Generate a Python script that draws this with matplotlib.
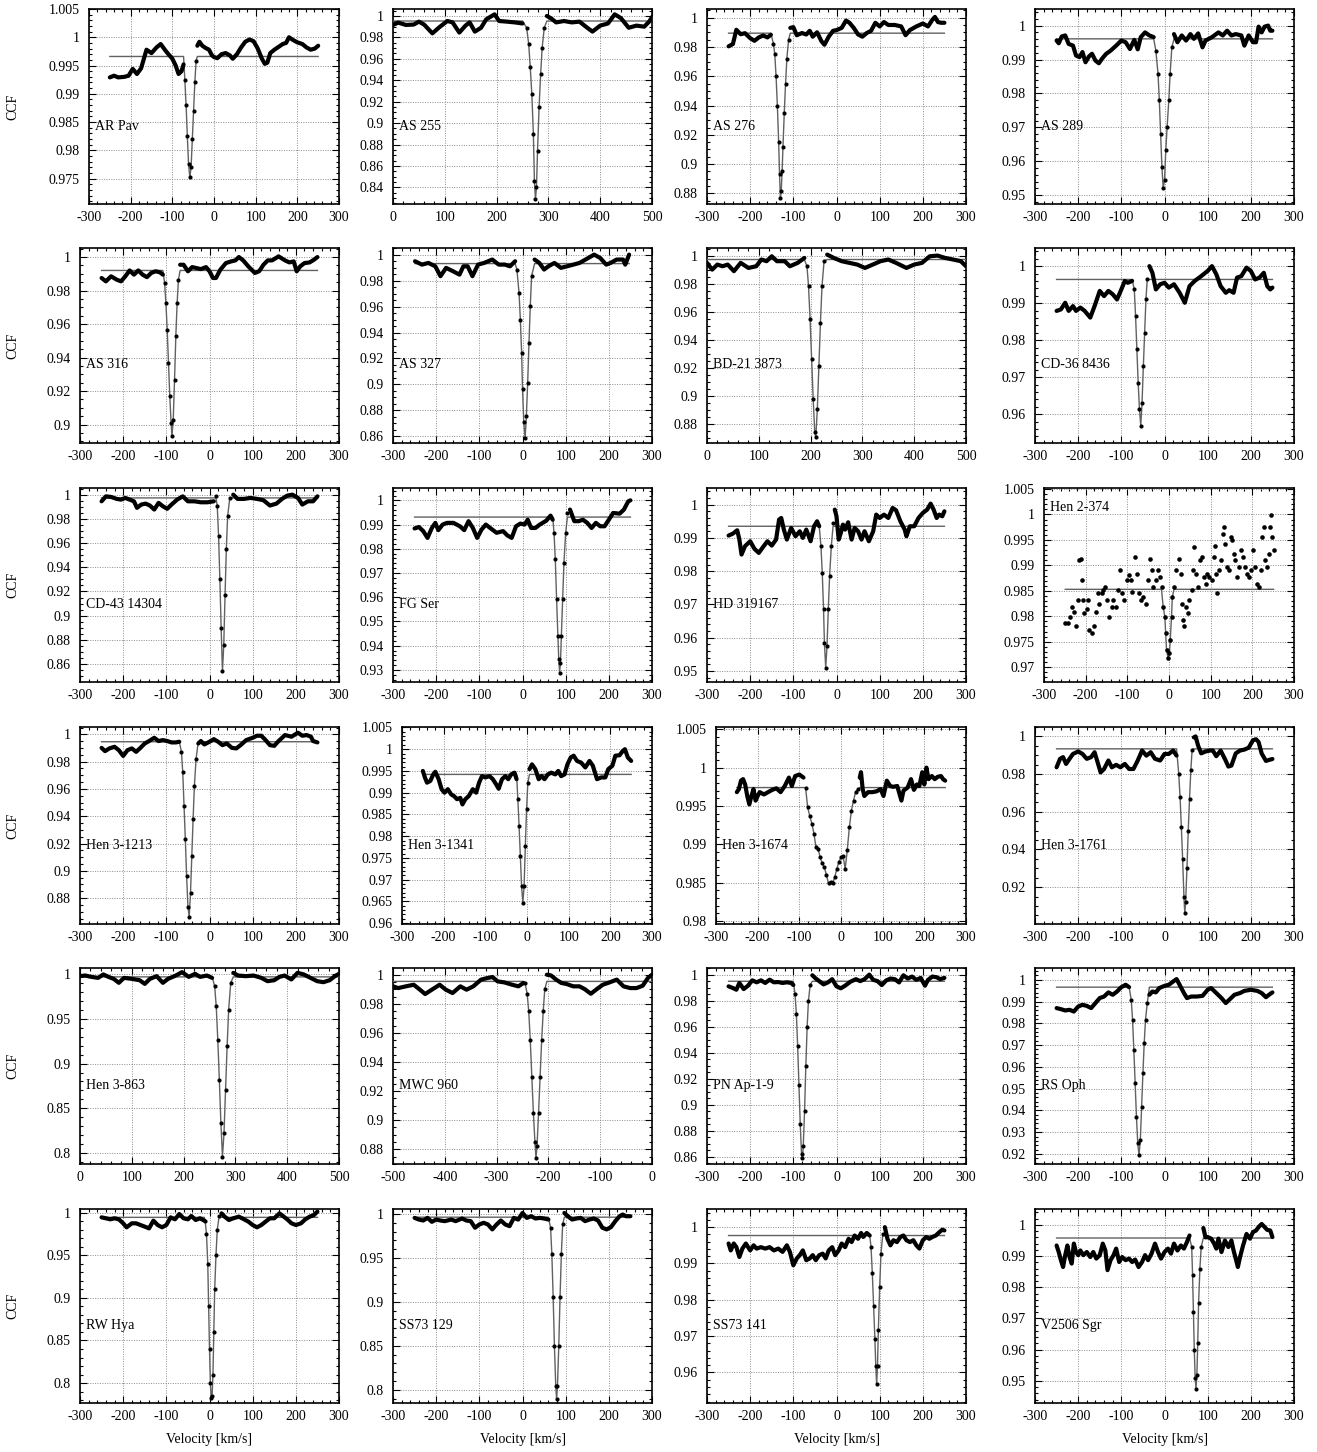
import numpy as np
import matplotlib
matplotlib.use("Agg")
import matplotlib.pyplot as plt
from matplotlib.ticker import FixedLocator, AutoMinorLocator, FuncFormatter

plt.rcParams["font.family"] = ["Liberation Serif", "DejaVu Serif"]
plt.rcParams["axes.unicode_minus"] = False

# (velocity [km/s], CCF), one list per star
AR_PAV = [(-250, 0.9929), (-240, 0.9932), (-230, 0.9929), (-215, 0.9930), (-205, 0.9932), (-195, 0.9944), (-185, 0.9935),
          (-175, 0.9945), (-162, 0.9978), (-150, 0.9972), (-138, 0.9982), (-128, 0.9988), (-115, 0.9975), (-100, 0.9962),
          (-92, 0.9950), (-85, 0.9935), (-78, 0.9940), (-73, 0.9952), (-70, 0.9925), (-67, 0.9880), (-64, 0.9825),
          (-61, 0.9775), (-58, 0.9752), (-55, 0.9770), (-52, 0.9820), (-49, 0.9870), (-46, 0.9920), (-43, 0.9958),
          (-40, 0.9985), (-35, 0.9992), (-28, 0.9985), (-20, 0.9981), (-12, 0.9978), (-5, 0.9968), (0, 0.9965),
          (8, 0.9963), (18, 0.9970), (28, 0.9972), (38, 0.9968), (45, 0.9962), (55, 0.9970), (65, 0.9982), (75, 0.9992),
          (85, 0.9996), (95, 0.9993), (105, 0.9980), (115, 0.9962), (122, 0.9953), (128, 0.9955), (135, 0.9972),
          (145, 0.9978), (155, 0.9983), (165, 0.9988), (173, 0.9990), (180, 1.0000), (190, 0.9995), (200, 0.9991),
          (212, 0.9988), (222, 0.9982), (232, 0.9978), (242, 0.9980), (250, 0.9985)]
AS_255 = [(0, 0.9916), (10, 0.9938), (25, 0.9916), (40, 0.9920), (50, 0.9947), (60, 0.9920), (76, 0.9838), (90, 0.9897),
          (105, 0.9953), (115, 0.9940), (128, 0.9845), (140, 0.9910), (148, 0.9940), (158, 0.9854), (170, 0.9890),
          (180, 0.9969), (196, 1.0015), (205, 0.9953), (220, 0.9947), (235, 0.9940), (250, 0.9930), (258, 0.9890),
          (262, 0.9736), (265, 0.9520), (268, 0.9270), (271, 0.8900), (273, 0.8460), (275, 0.8291), (277, 0.8400),
          (279, 0.8740), (282, 0.9146), (285, 0.9456), (288, 0.9705), (292, 0.9890), (297, 1.0000), (305, 0.9978),
          (315, 0.9940), (330, 0.9953), (345, 0.9940), (360, 0.9947), (375, 0.9890), (385, 0.9854), (400, 0.9910),
          (415, 0.9930), (428, 1.0015), (440, 0.9980), (455, 0.9890), (470, 0.9910), (485, 0.9900), (495, 0.9950),
          (500, 0.9990)]
AS_276 = [(-250, 0.9804), (-240, 0.9820), (-232, 0.9917), (-222, 0.9887), (-212, 0.9894), (-200, 0.9860), (-190, 0.9842),
          (-180, 0.9865), (-170, 0.9878), (-160, 0.9865), (-152, 0.9883), (-146, 0.9820), (-143, 0.9750), (-140, 0.9600),
          (-137, 0.9400), (-134, 0.9150), (-132, 0.8930), (-130, 0.8766), (-128, 0.8820), (-126, 0.8950), (-124, 0.9120),
          (-121, 0.9350), (-118, 0.9550), (-115, 0.9720), (-111, 0.9850), (-107, 0.9930), (-100, 0.9935), (-92, 0.9880),
          (-80, 0.9895), (-70, 0.9885), (-62, 0.9910), (-55, 0.9870), (-45, 0.9900), (-35, 0.9840), (-28, 0.9815),
          (-18, 0.9870), (-8, 0.9910), (0, 0.9915), (12, 0.9930), (22, 0.9980), (30, 0.9965), (40, 0.9930), (50, 0.9885),
          (60, 0.9870), (70, 0.9895), (80, 0.9910), (90, 0.9965), (100, 0.9940), (110, 0.9970), (120, 0.9950),
          (135, 0.9950), (150, 0.9940), (160, 0.9880), (170, 0.9915), (185, 0.9940), (200, 0.9960), (212, 0.9940),
          (222, 0.9985), (228, 1.0005), (235, 0.9970), (242, 0.9965), (250, 0.9965)]
AS_289 = [(-250, 0.9956), (-245, 0.9948), (-238, 0.9968), (-230, 0.9971), (-222, 0.9946), (-212, 0.9941), (-205, 0.9912),
          (-197, 0.9907), (-190, 0.9922), (-183, 0.9892), (-175, 0.9909), (-168, 0.9917), (-160, 0.9897), (-152, 0.9889),
          (-145, 0.9902), (-135, 0.9917), (-125, 0.9926), (-112, 0.9941), (-100, 0.9956), (-90, 0.9951), (-80, 0.9931),
          (-70, 0.9958), (-62, 0.9930), (-55, 0.9966), (-45, 0.9980), (-35, 0.9971), (-25, 0.9966), (-20, 0.9926),
          (-15, 0.9858), (-12, 0.9780), (-9, 0.9681), (-6, 0.9583), (-3, 0.9520), (0, 0.9544), (3, 0.9632), (6, 0.9700),
          (10, 0.9780), (13, 0.9858), (17, 0.9936), (22, 0.9975), (30, 0.9951), (40, 0.9971), (50, 0.9956), (60, 0.9975),
          (68, 0.9961), (78, 0.9977), (88, 0.9936), (95, 0.9956), (110, 0.9966), (125, 0.9980), (135, 0.9971),
          (145, 0.9985), (155, 0.9971), (165, 0.9975), (178, 0.9971), (185, 0.9941), (195, 0.9971), (205, 0.9951),
          (212, 0.9951), (218, 0.9997), (225, 0.9980), (232, 0.9997), (240, 1.0000), (245, 0.9985), (250, 0.9985)]
AS_316 = [(-250, 0.9875), (-240, 0.9855), (-228, 0.9885), (-215, 0.9865), (-205, 0.9855), (-195, 0.9885), (-185, 0.9920),
          (-175, 0.9895), (-165, 0.9920), (-155, 0.9895), (-145, 0.9880), (-135, 0.9905), (-125, 0.9915), (-115, 0.9909),
          (-108, 0.9895), (-104, 0.9845), (-101, 0.9726), (-98, 0.9567), (-95, 0.9368), (-92, 0.9169), (-89, 0.9010),
          (-87, 0.8930), (-84, 0.9030), (-81, 0.9268), (-78, 0.9527), (-75, 0.9726), (-72, 0.9865), (-68, 0.9954),
          (-60, 0.9954), (-50, 0.9915), (-40, 0.9940), (-30, 0.9934), (-20, 0.9928), (-8, 0.9940), (0, 0.9915),
          (8, 0.9875), (15, 0.9875), (25, 0.9924), (38, 0.9964), (50, 0.9974), (60, 0.9980), (68, 1.0000), (78, 0.9980),
          (90, 0.9944), (105, 0.9905), (115, 0.9915), (125, 0.9954), (135, 0.9980), (145, 0.9980), (160, 1.0004),
          (175, 0.9980), (185, 0.9968), (195, 0.9974), (202, 0.9915), (210, 0.9944), (220, 0.9964), (232, 0.9968),
          (242, 0.9984), (250, 1.0000)]
AS_327 = [(-249, 0.9949), (-233, 0.9923), (-218, 0.9936), (-202, 0.9910), (-190, 0.9834), (-177, 0.9898), (-161, 0.9872),
          (-146, 0.9846), (-137, 0.9910), (-127, 0.9910), (-116, 0.9834), (-103, 0.9923), (-89, 0.9936), (-70, 0.9962),
          (-55, 0.9923), (-41, 0.9923), (-29, 0.9910), (-17, 0.9949), (-13, 0.9885), (-8, 0.9706), (-5, 0.9500),
          (-2, 0.9245), (0, 0.8963), (3, 0.8707), (6, 0.8585), (9, 0.8759), (12, 0.9015), (15, 0.9322), (18, 0.9603),
          (21, 0.9834), (28, 0.9962), (39, 0.9936), (50, 0.9885), (60, 0.9910), (74, 0.9936), (89, 0.9898),
          (103, 0.9910), (118, 0.9923), (132, 0.9936), (146, 0.9962), (166, 1.0000), (180, 0.9974), (194, 0.9923),
          (204, 0.9936), (218, 0.9962), (233, 0.9962), (238, 0.9923), (247, 1.0000)]
BD_21_3873 = [(0, 0.9948), (10, 0.9900), (20, 0.9936), (30, 0.9924), (40, 0.9936), (52, 0.9889), (65, 0.9948), (80, 0.9912),
              (95, 0.9924), (105, 0.9972), (115, 0.9960), (125, 0.9995), (135, 0.9960), (150, 0.9960), (160, 0.9924),
              (175, 0.9948), (188, 0.9983), (193, 0.9924), (196, 0.9782), (199, 0.9546), (202, 0.9262), (205, 0.8977),
              (208, 0.8741), (210, 0.8705), (213, 0.8907), (216, 0.9214), (219, 0.9522), (222, 0.9782), (226, 0.9960),
              (232, 1.0007), (245, 0.9983), (260, 0.9960), (275, 0.9948), (290, 0.9936), (305, 0.9912), (320, 0.9936),
              (335, 0.9960), (350, 0.9972), (365, 0.9948), (385, 0.9912), (400, 0.9936), (415, 0.9948), (430, 0.9995),
              (445, 1.0000), (460, 0.9983), (475, 0.9972), (490, 0.9960), (500, 0.9924)]
CD_36_8436 = [(-250, 0.9879), (-240, 0.9883), (-230, 0.9901), (-222, 0.9879), (-212, 0.9892), (-205, 0.9879),
              (-195, 0.9888), (-185, 0.9879), (-172, 0.9861), (-162, 0.9892), (-150, 0.9933), (-140, 0.9919),
              (-130, 0.9933), (-120, 0.9924), (-110, 0.9910), (-100, 0.9937), (-92, 0.9960), (-85, 0.9955), (-75, 0.9960),
              (-70, 0.9937), (-67, 0.9865), (-64, 0.9775), (-61, 0.9685), (-58, 0.9613), (-55, 0.9569), (-52, 0.9631),
              (-49, 0.9730), (-46, 0.9820), (-43, 0.9910), (-40, 0.9964), (-35, 1.0000), (-28, 0.9982), (-20, 0.9937),
              (-10, 0.9951), (0, 0.9955), (10, 0.9942), (22, 0.9951), (35, 0.9928), (47, 0.9901), (58, 0.9946),
              (70, 0.9960), (85, 0.9973), (100, 0.9987), (110, 1.0000), (120, 0.9978), (130, 0.9946), (142, 0.9928),
              (150, 0.9935), (160, 0.9928), (168, 0.9969), (178, 0.9973), (190, 0.9996), (200, 0.9987), (210, 0.9964),
              (220, 0.9969), (230, 0.9982), (238, 0.9946), (245, 0.9937), (250, 0.9942)]
CD_43_14304 = [(-250, 0.9945), (-240, 0.9986), (-228, 0.9981), (-215, 0.9965), (-205, 0.9959), (-195, 0.9973),
               (-185, 0.9959), (-175, 0.9945), (-168, 0.9891), (-158, 0.9918), (-148, 0.9926), (-138, 0.9910),
               (-128, 0.9877), (-118, 0.9932), (-108, 0.9904), (-98, 0.9883), (-88, 0.9918), (-75, 0.9959), (-62, 0.9986),
               (-50, 0.9945), (-35, 0.9945), (-20, 0.9937), (-5, 0.9937), (10, 0.9945), (15, 0.9986), (18, 0.9904),
               (21, 0.9659), (24, 0.9304), (27, 0.8895), (30, 0.8540), (33, 0.8758), (36, 0.9168), (39, 0.9550),
               (42, 0.9823), (47, 0.9973), (55, 1.0000), (65, 0.9965), (80, 0.9965), (95, 0.9973), (110, 0.9965),
               (125, 0.9954), (140, 0.9910), (155, 0.9926), (168, 0.9965), (180, 0.9992), (192, 1.0000), (205, 0.9973),
               (215, 0.9918), (228, 0.9945), (240, 0.9945), (250, 0.9986)]
FG_SER = [(-250, 0.9884), (-240, 0.9890), (-230, 0.9873), (-220, 0.9845), (-210, 0.9886), (-202, 0.9907), (-195, 0.9877),
          (-185, 0.9900), (-175, 0.9907), (-160, 0.9907), (-145, 0.9893), (-135, 0.9877), (-125, 0.9914), (-115, 0.9886),
          (-105, 0.9845), (-95, 0.9879), (-85, 0.9900), (-75, 0.9886), (-60, 0.9866), (-45, 0.9873), (-35, 0.9855),
          (-25, 0.9845), (-15, 0.9893), (-5, 0.9904), (5, 0.9900), (12, 0.9920), (20, 0.9886), (30, 0.9886), (40, 0.9900),
          (55, 0.9916), (65, 0.9937), (70, 0.9920), (73, 0.9866), (76, 0.9756), (79, 0.9591), (82, 0.9440), (84, 0.9344),
          (86, 0.9289), (88, 0.9330), (90, 0.9440), (93, 0.9591), (96, 0.9742), (100, 0.9866), (104, 0.9948),
          (110, 0.9962), (120, 0.9914), (130, 0.9914), (140, 0.9920), (150, 0.9907), (160, 0.9886), (170, 0.9907),
          (180, 0.9893), (190, 0.9893), (200, 0.9920), (210, 0.9948), (225, 0.9945), (235, 0.9962), (245, 0.9996),
          (250, 1.0000)]
HD_319167 = [(-250, 0.9907), (-240, 0.9913), (-230, 0.9923), (-225, 0.9895), (-220, 0.9850), (-212, 0.9875), (-200, 0.9890),
             (-190, 0.9867), (-180, 0.9855), (-170, 0.9873), (-160, 0.9890), (-150, 0.9877), (-140, 0.9895), (-133, 0.9955),
             (-128, 0.9960), (-122, 0.9925), (-115, 0.9895), (-105, 0.9930), (-95, 0.9905), (-85, 0.9920), (-78, 0.9900),
             (-70, 0.9925), (-60, 0.9890), (-52, 0.9935), (-45, 0.9950), (-40, 0.9935), (-36, 0.9875), (-33, 0.9795),
             (-30, 0.9685), (-28, 0.9585), (-25, 0.9510), (-22, 0.9575), (-19, 0.9685), (-16, 0.9785), (-12, 0.9875),
             (-8, 0.9945), (-4, 0.9985), (0, 0.9965), (5, 0.9895), (10, 0.9915), (15, 0.9940), (20, 0.9925), (27, 0.9947),
             (35, 0.9895), (42, 0.9930), (50, 0.9920), (58, 0.9895), (65, 0.9920), (75, 0.9890), (85, 0.9920),
             (92, 0.9970), (100, 0.9960), (110, 0.9970), (120, 0.9960), (130, 0.9990), (138, 0.9983), (148, 0.9950),
             (158, 0.9925), (162, 0.9905), (170, 0.9935), (180, 0.9935), (190, 0.9960), (200, 0.9975), (210, 0.9985),
             (218, 1.0003), (225, 0.9985), (232, 0.9960), (238, 0.9970), (245, 0.9965), (250, 0.9980)]
HEN_2_374 = [(-249, 0.9786), (-243, 0.9787), (-237, 0.9799), (-232, 0.9819), (-227, 0.9809), (-223, 0.9780), (-218, 0.9832),
             (-215, 0.9910), (-212, 0.9913), (-210, 0.9871), (-207, 0.9832), (-203, 0.9806), (-197, 0.9815), (-194, 0.9832),
             (-191, 0.9773), (-186, 0.9767), (-181, 0.9780), (-175, 0.9809), (-170, 0.9845), (-167, 0.9825), (-162, 0.9845),
             (-158, 0.9851), (-153, 0.9858), (-150, 0.9832), (-143, 0.9799), (-138, 0.9819), (-134, 0.9832), (-127, 0.9819),
             (-123, 0.9851), (-118, 0.9890), (-113, 0.9845), (-107, 0.9832), (-102, 0.9871), (-97, 0.9881), (-92, 0.9871),
             (-88, 0.9848), (-82, 0.9917), (-78, 0.9884), (-73, 0.9845), (-68, 0.9832), (-62, 0.9838), (-56, 0.9825),
             (-50, 0.9871), (-45, 0.9913), (-41, 0.9890), (-38, 0.9858), (-32, 0.9871), (-26, 0.9890), (-22, 0.9878),
             (-18, 0.9858), (-14, 0.9819), (-10, 0.9799), (-8, 0.9767), (-6, 0.9734), (-2, 0.9718), (1, 0.9727),
             (3, 0.9753), (6, 0.9799), (8, 0.9838), (12, 0.9858), (17, 0.9890), (24, 0.9913), (28, 0.9884), (30, 0.9825),
             (34, 0.9793), (37, 0.9780), (41, 0.9819), (45, 0.9806), (49, 0.9832), (54, 0.9851), (58, 0.9890),
             (61, 0.9936), (65, 0.9884), (70, 0.9858), (75, 0.9910), (80, 0.9917), (83, 0.9877), (88, 0.9864),
             (92, 0.9884), (97, 0.9877), (102, 0.9871), (107, 0.9917), (110, 0.9939), (113, 0.9884), (115, 0.9845),
             (119, 0.9890), (124, 0.9910), (129, 0.9962), (132, 0.9975), (135, 0.9943), (139, 0.9897), (143, 0.9890),
             (148, 0.9956), (151, 0.9949), (155, 0.9923), (159, 0.9910), (164, 0.9877), (169, 0.9897), (173, 0.9930),
             (178, 0.9917), (183, 0.9897), (188, 0.9884), (193, 0.9877), (197, 0.9890), (202, 0.9930), (207, 0.9897),
             (212, 0.9864), (216, 0.9858), (221, 0.9890), (224, 0.9956), (228, 0.9975), (231, 0.9910), (235, 0.9897),
             (240, 0.9923), (243, 0.9975), (245, 0.9998), (248, 0.9956), (251, 0.9930)]
HEN_3_1213 = [(-250, 0.9901), (-242, 0.9877), (-232, 0.9897), (-220, 0.9909), (-210, 0.9884), (-200, 0.9842), (-190, 0.9884),
              (-180, 0.9897), (-170, 0.9872), (-160, 0.9901), (-150, 0.9933), (-140, 0.9951), (-128, 0.9975),
              (-118, 0.9951), (-108, 0.9958), (-98, 0.9951), (-88, 0.9941), (-78, 0.9941), (-70, 0.9946), (-65, 0.9872),
              (-62, 0.9724), (-59, 0.9478), (-56, 0.9231), (-53, 0.8960), (-50, 0.8738), (-47, 0.8664), (-44, 0.8837),
              (-41, 0.9108), (-38, 0.9379), (-35, 0.9625), (-31, 0.9823), (-26, 0.9933), (-20, 0.9951), (-12, 0.9926),
              (0, 0.9946), (10, 0.9965), (20, 0.9946), (30, 0.9921), (40, 0.9933), (52, 0.9901), (62, 0.9897),
              (72, 0.9921), (85, 0.9958), (100, 0.9975), (110, 0.9990), (120, 0.9990), (130, 0.9958), (140, 0.9921),
              (150, 0.9916), (160, 0.9951), (175, 0.9995), (190, 0.9983), (205, 1.0012), (215, 0.9990), (225, 0.9995),
              (235, 0.9983), (240, 0.9951), (250, 0.9941)]
HEN_3_1341 = [(-250, 0.9950), (-245, 0.9935), (-240, 0.9923), (-232, 0.9927), (-225, 0.9942), (-220, 0.9948), (-212, 0.9931),
              (-205, 0.9908), (-198, 0.9900), (-190, 0.9908), (-182, 0.9896), (-175, 0.9892), (-168, 0.9885),
              (-160, 0.9888), (-155, 0.9873), (-148, 0.9885), (-140, 0.9892), (-130, 0.9908), (-122, 0.9900),
              (-115, 0.9923), (-108, 0.9938), (-100, 0.9935), (-90, 0.9938), (-82, 0.9931), (-74, 0.9919), (-68, 0.9909),
              (-60, 0.9931), (-52, 0.9938), (-45, 0.9931), (-38, 0.9942), (-30, 0.9946), (-25, 0.9931), (-22, 0.9885),
              (-19, 0.9823), (-16, 0.9754), (-13, 0.9685), (-10, 0.9646), (-7, 0.9685), (-4, 0.9777), (-1, 0.9862),
              (2, 0.9923), (6, 0.9954), (12, 0.9965), (20, 0.9954), (28, 0.9931), (35, 0.9938), (42, 0.9931), (50, 0.9942),
              (58, 0.9946), (68, 0.9942), (75, 0.9950), (82, 0.9938), (90, 0.9942), (97, 0.9965), (105, 0.9981),
              (112, 0.9985), (120, 0.9973), (130, 0.9969), (140, 0.9958), (150, 0.9973), (158, 0.9962), (168, 0.9931),
              (178, 0.9935), (188, 0.9935), (195, 0.9954), (205, 0.9962), (212, 0.9985), (222, 0.9986), (230, 0.9996),
              (235, 1.0000), (242, 0.9981), (250, 0.9973)]
HEN_3_1674 = [(-250, 0.9968), (-245, 0.9972), (-240, 0.9983), (-235, 0.9985), (-230, 0.9978), (-225, 0.9963), (-220, 0.9952),
              (-215, 0.9963), (-210, 0.9972), (-205, 0.9957), (-200, 0.9963), (-195, 0.9968), (-185, 0.9965),
              (-175, 0.9968), (-165, 0.9971), (-155, 0.9973), (-145, 0.9968), (-135, 0.9976), (-125, 0.9987),
              (-118, 0.9976), (-110, 0.9989), (-100, 0.9991), (-90, 0.9987), (-85, 0.9974), (-80, 0.9948), (-75, 0.9937),
              (-70, 0.9927), (-65, 0.9914), (-60, 0.9896), (-55, 0.9894), (-50, 0.9883), (-45, 0.9875), (-40, 0.9870),
              (-35, 0.9860), (-30, 0.9849), (-25, 0.9851), (-20, 0.9849), (-15, 0.9857), (-10, 0.9868), (-5, 0.9877),
              (0, 0.9883), (5, 0.9885), (10, 0.9868), (15, 0.9892), (20, 0.9922), (25, 0.9944), (30, 0.9957), (35, 0.9968),
              (40, 0.9972), (45, 0.9987), (48, 0.9994), (52, 0.9972), (56, 0.9963), (65, 0.9968), (75, 0.9968),
              (85, 0.9969), (95, 0.9972), (102, 0.9963), (110, 0.9983), (118, 0.9976), (125, 0.9975), (135, 0.9976),
              (145, 0.9957), (150, 0.9970), (160, 0.9974), (168, 0.9985), (175, 0.9971), (182, 0.9978), (188, 0.9976),
              (195, 0.9994), (200, 0.9978), (205, 1.0000), (210, 0.9985), (218, 0.9989), (225, 0.9985), (232, 0.9988),
              (240, 0.9989), (245, 0.9985), (250, 0.9983)]
HEN_3_1761 = [(-250, 0.9836), (-242, 0.9881), (-235, 0.9890), (-228, 0.9854), (-220, 0.9881), (-212, 0.9907), (-200, 0.9920),
              (-190, 0.9907), (-180, 0.9881), (-170, 0.9890), (-162, 0.9916), (-155, 0.9863), (-148, 0.9809),
              (-140, 0.9827), (-130, 0.9872), (-122, 0.9836), (-112, 0.9849), (-102, 0.9836), (-92, 0.9854), (-82, 0.9827),
              (-72, 0.9827), (-62, 0.9872), (-52, 0.9925), (-42, 0.9898), (-32, 0.9916), (-22, 0.9881), (-10, 0.9872),
              (0, 0.9907), (10, 0.9907), (20, 0.9925), (28, 0.9898), (33, 0.9800), (36, 0.9680), (39, 0.9520), (42, 0.9350),
              (45, 0.9150), (47, 0.9060), (49, 0.9120), (52, 0.9300), (55, 0.9500), (58, 0.9670), (61, 0.9820),
              (64, 0.9930), (68, 0.9995), (72, 1.0000), (78, 0.9950), (85, 0.9910), (95, 0.9920), (105, 0.9925),
              (112, 0.9925), (120, 0.9895), (130, 0.9925), (140, 0.9880), (148, 0.9840), (155, 0.9845), (165, 0.9910),
              (175, 0.9925), (185, 0.9930), (195, 0.9940), (205, 0.9980), (212, 0.9985), (218, 0.9970), (225, 0.9910),
              (235, 0.9870), (242, 0.9875), (250, 0.9880)]
HEN_3_863 = [(0, 0.9974), (10, 0.9981), (22, 0.9966), (35, 0.9955), (45, 0.9993), (55, 0.9966), (65, 0.9944), (75, 0.9900),
             (85, 0.9955), (100, 0.9944), (115, 0.9929), (125, 0.9888), (135, 0.9944), (148, 0.9974), (160, 0.9900),
             (170, 0.9944), (185, 0.9981), (197, 1.0019), (210, 0.9966), (222, 1.0000), (232, 0.9966), (245, 0.9981),
             (255, 0.9955), (260, 0.9862), (263, 0.9639), (266, 0.9266), (269, 0.8819), (272, 0.8335), (275, 0.7963),
             (278, 0.8223), (281, 0.8708), (284, 0.9192), (287, 0.9601), (291, 0.9900), (296, 1.0011), (305, 0.9981),
             (320, 0.9974), (335, 0.9981), (350, 0.9955), (362, 0.9918), (375, 0.9929), (385, 0.9966), (395, 0.9981),
             (408, 0.9937), (420, 1.0011), (432, 0.9993), (445, 0.9955), (458, 0.9918), (470, 0.9907), (482, 0.9929),
             (492, 0.9974), (500, 1.0000)]
MWC_960 = [(-500, 0.9920), (-490, 0.9908), (-475, 0.9920), (-460, 0.9931), (-448, 0.9897), (-438, 0.9867), (-425, 0.9897),
           (-410, 0.9931), (-398, 0.9897), (-385, 0.9874), (-370, 0.9920), (-358, 0.9897), (-345, 0.9920), (-330, 0.9966),
           (-318, 0.9977), (-308, 0.9984), (-298, 0.9954), (-285, 0.9947), (-270, 0.9931), (-258, 0.9920), (-248, 0.9943),
           (-245, 0.9940), (-241, 0.9870), (-238, 0.9750), (-235, 0.9550), (-232, 0.9300), (-229, 0.9050), (-226, 0.8850),
           (-224, 0.8740), (-222, 0.8820), (-219, 0.9050), (-216, 0.9300), (-213, 0.9550), (-210, 0.9750), (-207, 0.9900),
           (-203, 1.0000), (-195, 0.9995), (-185, 0.9966), (-175, 0.9943), (-165, 0.9936), (-152, 0.9920), (-140, 0.9920),
           (-130, 0.9901), (-118, 0.9869), (-108, 0.9897), (-95, 0.9931), (-82, 0.9947), (-68, 0.9966), (-55, 0.9920),
           (-42, 0.9908), (-30, 0.9908), (-18, 0.9924), (-8, 0.9977), (0, 1.0000)]
PN_AP_1_9 = [(-250, 0.9910), (-240, 0.9897), (-232, 0.9884), (-225, 0.9936), (-215, 0.9889), (-205, 0.9915), (-195, 0.9956),
             (-185, 0.9941), (-175, 0.9956), (-165, 0.9936), (-155, 0.9961), (-145, 0.9941), (-135, 0.9943), (-125, 0.9936),
             (-115, 0.9941), (-105, 0.9936), (-100, 0.9920), (-96, 0.9850), (-93, 0.9700), (-90, 0.9450), (-87, 0.9150),
             (-84, 0.8850), (-81, 0.8620), (-79, 0.8590), (-77, 0.8680), (-74, 0.8950), (-71, 0.9300), (-68, 0.9600),
             (-65, 0.9800), (-61, 0.9920), (-56, 0.9995), (-48, 0.9970), (-40, 0.9950), (-30, 0.9925), (-20, 0.9940),
             (-10, 0.9965), (0, 0.9910), (10, 0.9895), (20, 0.9915), (32, 0.9945), (45, 0.9965), (55, 0.9950), (65, 0.9965),
             (76, 1.0000), (85, 0.9960), (95, 0.9950), (105, 0.9920), (115, 0.9955), (125, 0.9970), (135, 0.9965),
             (145, 0.9940), (155, 0.9995), (165, 0.9970), (175, 0.9985), (185, 0.9960), (195, 0.9975), (205, 0.9915),
             (212, 0.9960), (222, 0.9985), (232, 0.9980), (240, 0.9965), (250, 0.9975)]
RS_OPH = [(-250, 0.9870), (-240, 0.9865), (-230, 0.9859), (-220, 0.9862), (-210, 0.9854), (-200, 0.9877), (-190, 0.9885),
          (-180, 0.9880), (-170, 0.9870), (-160, 0.9893), (-150, 0.9916), (-140, 0.9923), (-130, 0.9942), (-120, 0.9931),
          (-110, 0.9946), (-100, 0.9966), (-90, 0.9977), (-82, 0.9966), (-77, 0.9908), (-74, 0.9816), (-71, 0.9678),
          (-68, 0.9525), (-65, 0.9372), (-62, 0.9249), (-59, 0.9195), (-56, 0.9264), (-53, 0.9418), (-50, 0.9571),
          (-47, 0.9709), (-44, 0.9816), (-40, 0.9893), (-35, 0.9931), (-28, 0.9946), (-20, 0.9942), (-12, 0.9962),
          (0, 0.9972), (10, 0.9977), (20, 0.9992), (28, 1.0003), (35, 0.9977), (45, 0.9939), (52, 0.9916), (62, 0.9923),
          (75, 0.9923), (88, 0.9926), (100, 0.9954), (108, 0.9962), (120, 0.9939), (132, 0.9916), (142, 0.9893),
          (150, 0.9908), (162, 0.9931), (175, 0.9939), (185, 0.9949), (200, 0.9954), (215, 0.9949), (225, 0.9939),
          (235, 0.9920), (242, 0.9931), (250, 0.9942)]
RW_HYA = [(-250, 0.9945), (-240, 0.9934), (-230, 0.9922), (-220, 0.9934), (-210, 0.9922), (-200, 0.9875), (-192, 0.9828),
          (-180, 0.9875), (-170, 0.9875), (-160, 0.9855), (-150, 0.9836), (-140, 0.9816), (-130, 0.9906), (-120, 0.9855),
          (-110, 0.9828), (-100, 0.9855), (-90, 0.9945), (-80, 0.9922), (-70, 0.9984), (-60, 0.9934), (-50, 0.9922),
          (-42, 0.9961), (-32, 0.9914), (-22, 0.9934), (-12, 0.9906), (-10, 0.9900), (-7, 0.9750), (-4, 0.9400),
          (-2, 0.8900), (0, 0.8400), (2, 0.8000), (4, 0.7820), (6, 0.7850), (8, 0.8100), (10, 0.8600), (12, 0.9100),
          (15, 0.9500), (18, 0.9800), (22, 0.9960), (28, 0.9992), (35, 0.9953), (45, 0.9914), (55, 0.9934), (68, 0.9953),
          (80, 0.9922), (90, 0.9895), (100, 0.9855), (110, 0.9828), (120, 0.9855), (130, 0.9895), (140, 0.9934),
          (150, 0.9934), (162, 0.9992), (170, 0.9961), (180, 0.9922), (190, 0.9875), (200, 0.9855), (212, 0.9875),
          (222, 0.9922), (232, 0.9953), (242, 0.9973), (250, 1.0012)]
SS73_129 = [(-250, 0.9955), (-240, 0.9936), (-230, 0.9925), (-220, 0.9955), (-210, 0.9910), (-200, 0.9936), (-190, 0.9925),
            (-180, 0.9918), (-165, 0.9936), (-155, 0.9918), (-140, 0.9948), (-130, 0.9925), (-120, 0.9918), (-110, 0.9843),
            (-100, 0.9880), (-90, 0.9899), (-80, 0.9880), (-70, 0.9824), (-60, 0.9880), (-50, 0.9925), (-40, 0.9880),
            (-30, 0.9861), (-20, 0.9955), (-10, 0.9936), (0, 1.0011), (10, 0.9955), (20, 0.9974), (30, 0.9948),
            (40, 0.9955), (50, 0.9948), (60, 0.9936), (65, 0.9843), (68, 0.9543), (71, 0.9056), (74, 0.8494), (77, 0.8045),
            (79, 0.7895), (81, 0.8045), (84, 0.8494), (87, 0.9056), (90, 0.9543), (93, 0.9880), (97, 1.0011),
            (105, 0.9974), (115, 0.9936), (125, 0.9948), (135, 0.9955), (145, 0.9918), (155, 0.9936), (165, 0.9948),
            (175, 0.9925), (185, 0.9843), (195, 0.9824), (205, 0.9850), (215, 0.9918), (225, 0.9974), (232, 0.9993),
            (240, 0.9974), (250, 0.9974)]
SS73_141 = [(-250, 0.9955), (-245, 0.9936), (-238, 0.9955), (-232, 0.9945), (-225, 0.9918), (-218, 0.9941), (-210, 0.9955),
            (-200, 0.9936), (-192, 0.9950), (-185, 0.9941), (-175, 0.9945), (-165, 0.9941), (-155, 0.9945), (-145, 0.9936),
            (-135, 0.9941), (-125, 0.9932), (-115, 0.9950), (-108, 0.9932), (-100, 0.9895), (-92, 0.9914), (-85, 0.9923),
            (-78, 0.9936), (-70, 0.9909), (-62, 0.9914), (-55, 0.9923), (-48, 0.9909), (-40, 0.9923), (-32, 0.9927),
            (-25, 0.9914), (-18, 0.9936), (-10, 0.9945), (-3, 0.9923), (5, 0.9936), (12, 0.9955), (20, 0.9945),
            (28, 0.9968), (35, 0.9959), (42, 0.9977), (50, 0.9968), (57, 0.9984), (62, 0.9973), (70, 0.9984), (77, 0.9977),
            (80, 0.9945), (83, 0.9873), (86, 0.9782), (89, 0.9691), (91, 0.9618), (93, 0.9568), (95, 0.9618), (97, 0.9718),
            (100, 0.9836), (103, 0.9927), (107, 0.9982), (112, 1.0000), (118, 0.9968), (125, 0.9950), (132, 0.9964),
            (140, 0.9959), (148, 0.9973), (155, 0.9977), (162, 0.9964), (170, 0.9959), (178, 0.9964), (185, 0.9950),
            (192, 0.9941), (200, 0.9964), (208, 0.9973), (215, 0.9968), (222, 0.9973), (230, 0.9977), (238, 0.9986),
            (245, 0.9993), (250, 0.9991)]
V2506_SGR = [(-250, 0.9934), (-245, 0.9913), (-240, 0.9887), (-235, 0.9865), (-230, 0.9903), (-225, 0.9934), (-220, 0.9897),
             (-215, 0.9876), (-210, 0.9940), (-205, 0.9913), (-200, 0.9903), (-195, 0.9918), (-188, 0.9903), (-180, 0.9913),
             (-172, 0.9897), (-165, 0.9913), (-158, 0.9892), (-150, 0.9903), (-143, 0.9940), (-137, 0.9918), (-132, 0.9855),
             (-125, 0.9887), (-118, 0.9903), (-112, 0.9924), (-105, 0.9881), (-98, 0.9897), (-90, 0.9887), (-82, 0.9892),
             (-75, 0.9881), (-68, 0.9889), (-60, 0.9865), (-52, 0.9881), (-45, 0.9903), (-38, 0.9887), (-30, 0.9908),
             (-22, 0.9940), (-15, 0.9913), (-8, 0.9892), (0, 0.9913), (8, 0.9924), (15, 0.9908), (22, 0.9940), (30, 0.9918),
             (38, 0.9934), (45, 0.9924), (52, 0.9945), (58, 0.9966), (63, 0.9930), (65, 0.9840), (67, 0.9720), (69, 0.9600),
             (71, 0.9510), (73, 0.9475), (75, 0.9520), (77, 0.9620), (79, 0.9750), (82, 0.9860), (85, 0.9930),
             (90, 0.9990), (95, 0.9960), (100, 0.9961), (108, 0.9956), (115, 0.9940), (120, 0.9924), (125, 0.9956),
             (132, 0.9913), (140, 0.9950), (148, 0.9929), (155, 0.9950), (160, 0.9918), (165, 0.9892), (170, 0.9865),
             (175, 0.9897), (182, 0.9934), (190, 0.9971), (198, 0.9956), (205, 0.9977), (212, 0.9982), (218, 0.9993),
             (225, 1.0003), (232, 0.9993), (238, 0.9984), (245, 0.9982), (250, 0.9961)]

NAMES = ["AR Pav", "AS 255", "AS 276", "AS 289",
         "AS 316", "AS 327", "BD-21 3873", "CD-36 8436",
         "CD-43 14304", "FG Ser", "HD 319167", "Hen 2-374",
         "Hen 3-1213", "Hen 3-1341", "Hen 3-1674", "Hen 3-1761",
         "Hen 3-863", "MWC 960", "PN Ap-1-9", "RS Oph",
         "RW Hya", "SS73 129", "SS73 141", "V2506 Sgr"]
SERIES = [AR_PAV, AS_255, AS_276, AS_289, AS_316, AS_327, BD_21_3873, CD_36_8436,
          CD_43_14304, FG_SER, HD_319167, HEN_2_374, HEN_3_1213, HEN_3_1341, HEN_3_1674, HEN_3_1761,
          HEN_3_863, MWC_960, PN_AP_1_9, RS_OPH, RW_HYA, SS73_129, SS73_141, V2506_SGR]
# fitted continuum level and velocity window of the fitted dip
CONT = [0.9966, 0.9953, 0.9894, 0.9961, 0.9920, 0.9931, 0.9972, 0.9964,
        0.9973, 0.9931, 0.9935, 0.9853, 0.9946, 0.9942, 0.9974, 0.9934,
        0.9966, 0.9954, 0.9949, 0.9966, 0.9945, 0.9963, 0.9977, 0.9958]
DIP = [(-72, -42), (255, 296), (-148, -108), (-22, 20), (-106, -70), (-15, 25), (190, 228), (-72, -37),
       (14, 50), (70, 106), (-38, -5), (-16, 12), (-67, -28), (-24, 6), (-86, 44), (29, 66),
       (257, 294), (-246, -205), (-99, -58), (-80, -38), (-12, 23), (62, 95), (78, 108), (61, 90)]
XRANGE = [(-300, 300), (0, 500), (-300, 300), (-300, 300),
          (-300, 300), (-300, 300), (0, 500), (-300, 300),
          (-300, 300), (-300, 300), (-300, 300), (-300, 300),
          (-300, 300), (-300, 300), (-300, 300), (-300, 300),
          (0, 500), (-500, 0), (-300, 300), (-300, 300),
          (-300, 300), (-300, 300), (-300, 300), (-300, 300)]
YRANGE = [(0.9705, 1.005), (0.8245, 1.0065), (0.8728, 1.0059), (0.9474, 1.0049),
          (0.889, 1.0054), (0.8549, 1.0051), (0.8665, 1.0054), (0.9522, 1.0049),
          (0.8452, 1.0055), (0.925, 1.0051), (0.9467, 1.005), (0.9671, 1.0052),
          (0.861, 1.0054), (0.9598, 1.0051), (0.9796, 1.0053), (0.9004, 1.005),
          (0.788, 1.0065), (0.8699, 1.0046), (0.8544, 1.0051), (0.9154, 1.0054),
          (0.7766, 1.0043), (0.785, 1.0056), (0.9516, 1.005), (0.9429, 1.0051)]
YSTEP = [0.005, 0.02, 0.02, 0.01,
         0.02, 0.02, 0.02, 0.01,
         0.02, 0.01, 0.01, 0.005,
         0.02, 0.005, 0.005, 0.02,
         0.05, 0.02, 0.02, 0.01,
         0.05, 0.05, 0.01, 0.01]

W, H = 1317, 1452
ROW_TOP = [9, 248, 488, 727, 968, 1209]
ROW_BOT = [204, 443, 682, 924, 1164, 1403]
COL_LEFT = [80, 393, 707, 1035]
COL_W = 259
FS = 10


def fmt(v, pos=None):
    return f"{round(v, 4):g}"


fig = plt.figure(figsize=(W / 100, H / 100), dpi=100)

for i, name in enumerate(NAMES):
    r, c = divmod(i, 4)
    lo, hi = YRANGE[i]
    step = YSTEP[i]
    k0 = int(np.ceil(lo / step - 1e-6))
    k1 = int(np.floor(hi / step + 1e-6))
    yticks = [round(k * step, 4) for k in range(k0, k1 + 1)]
    maxlen = max(len(fmt(t)) for t in yticks)
    left = COL_LEFT[c] + 9 * (maxlen - 4)
    right = COL_LEFT[c] + COL_W
    ax = fig.add_axes([left / W, 1 - ROW_BOT[r] / H, (right - left) / W, (ROW_BOT[r] - ROW_TOP[r]) / H])

    pts = np.array(SERIES[i])
    v, ccf = pts[:, 0], pts[:, 1]
    a, b = DIP[i]
    inside = (v > a) & (v < b)
    fit = np.where(inside, np.minimum(ccf, CONT[i]), CONT[i])
    ax.plot(v, fit, color="0.38", lw=1.0, zorder=3)
    if name == "Hen 2-374":
        ax.plot(v, ccf, "o", color="k", ms=3.3, mew=0, zorder=4)
    else:
        thick = np.where(inside, np.nan, ccf)
        ax.plot(v, thick, "-", color="k", lw=3.0, solid_capstyle="round",
                solid_joinstyle="round", zorder=4)
        ax.plot(v[inside], ccf[inside], "o", color="k", ms=3.0, mew=0, zorder=5)

    x0, x1 = XRANGE[i]
    ax.set_xlim(x0, x1)
    ax.set_ylim(lo, hi)
    ax.xaxis.set_major_locator(FixedLocator(list(range(x0, x1 + 1, 100))))
    ax.yaxis.set_major_locator(FixedLocator(yticks))
    ax.xaxis.set_minor_locator(AutoMinorLocator(5))
    ax.yaxis.set_minor_locator(AutoMinorLocator(4 if step == 0.02 else 5))
    ax.xaxis.set_major_formatter(FuncFormatter(fmt))
    ax.yaxis.set_major_formatter(FuncFormatter(fmt))
    ax.tick_params(which="both", direction="in", top=True, right=True, labelsize=FS, width=0.8)
    ax.tick_params(which="major", length=5)
    ax.tick_params(which="minor", length=2.5)
    ax.tick_params(axis="y", pad=7)
    ax.tick_params(axis="x", pad=5)
    ax.grid(True, which="major", linestyle=(0, (1, 1.5)), color="0.55", lw=0.7)
    ax.set_axisbelow(True)
    for sp in ax.spines.values():
        sp.set_linewidth(1.2)

    ly = 0.9 if name == "Hen 2-374" else 0.4
    ax.annotate(name, xy=(0, ly), xycoords="axes fraction", xytext=(4, 0),
                textcoords="offset points", va="center", ha="left", fontsize=FS, zorder=6)

for r in range(6):
    fig.text(13 / W, 1 - (ROW_TOP[r] + ROW_BOT[r]) / 2 / H, "CCF", rotation=90,
             ha="center", va="center", fontsize=FS)
for c in range(4):
    fig.text((COL_LEFT[c] + COL_W / 2) / W, 1 - 1440 / H, "Velocity [km/s]",
             ha="center", va="center", fontsize=FS)

fig.savefig("out.png", dpi=100)
